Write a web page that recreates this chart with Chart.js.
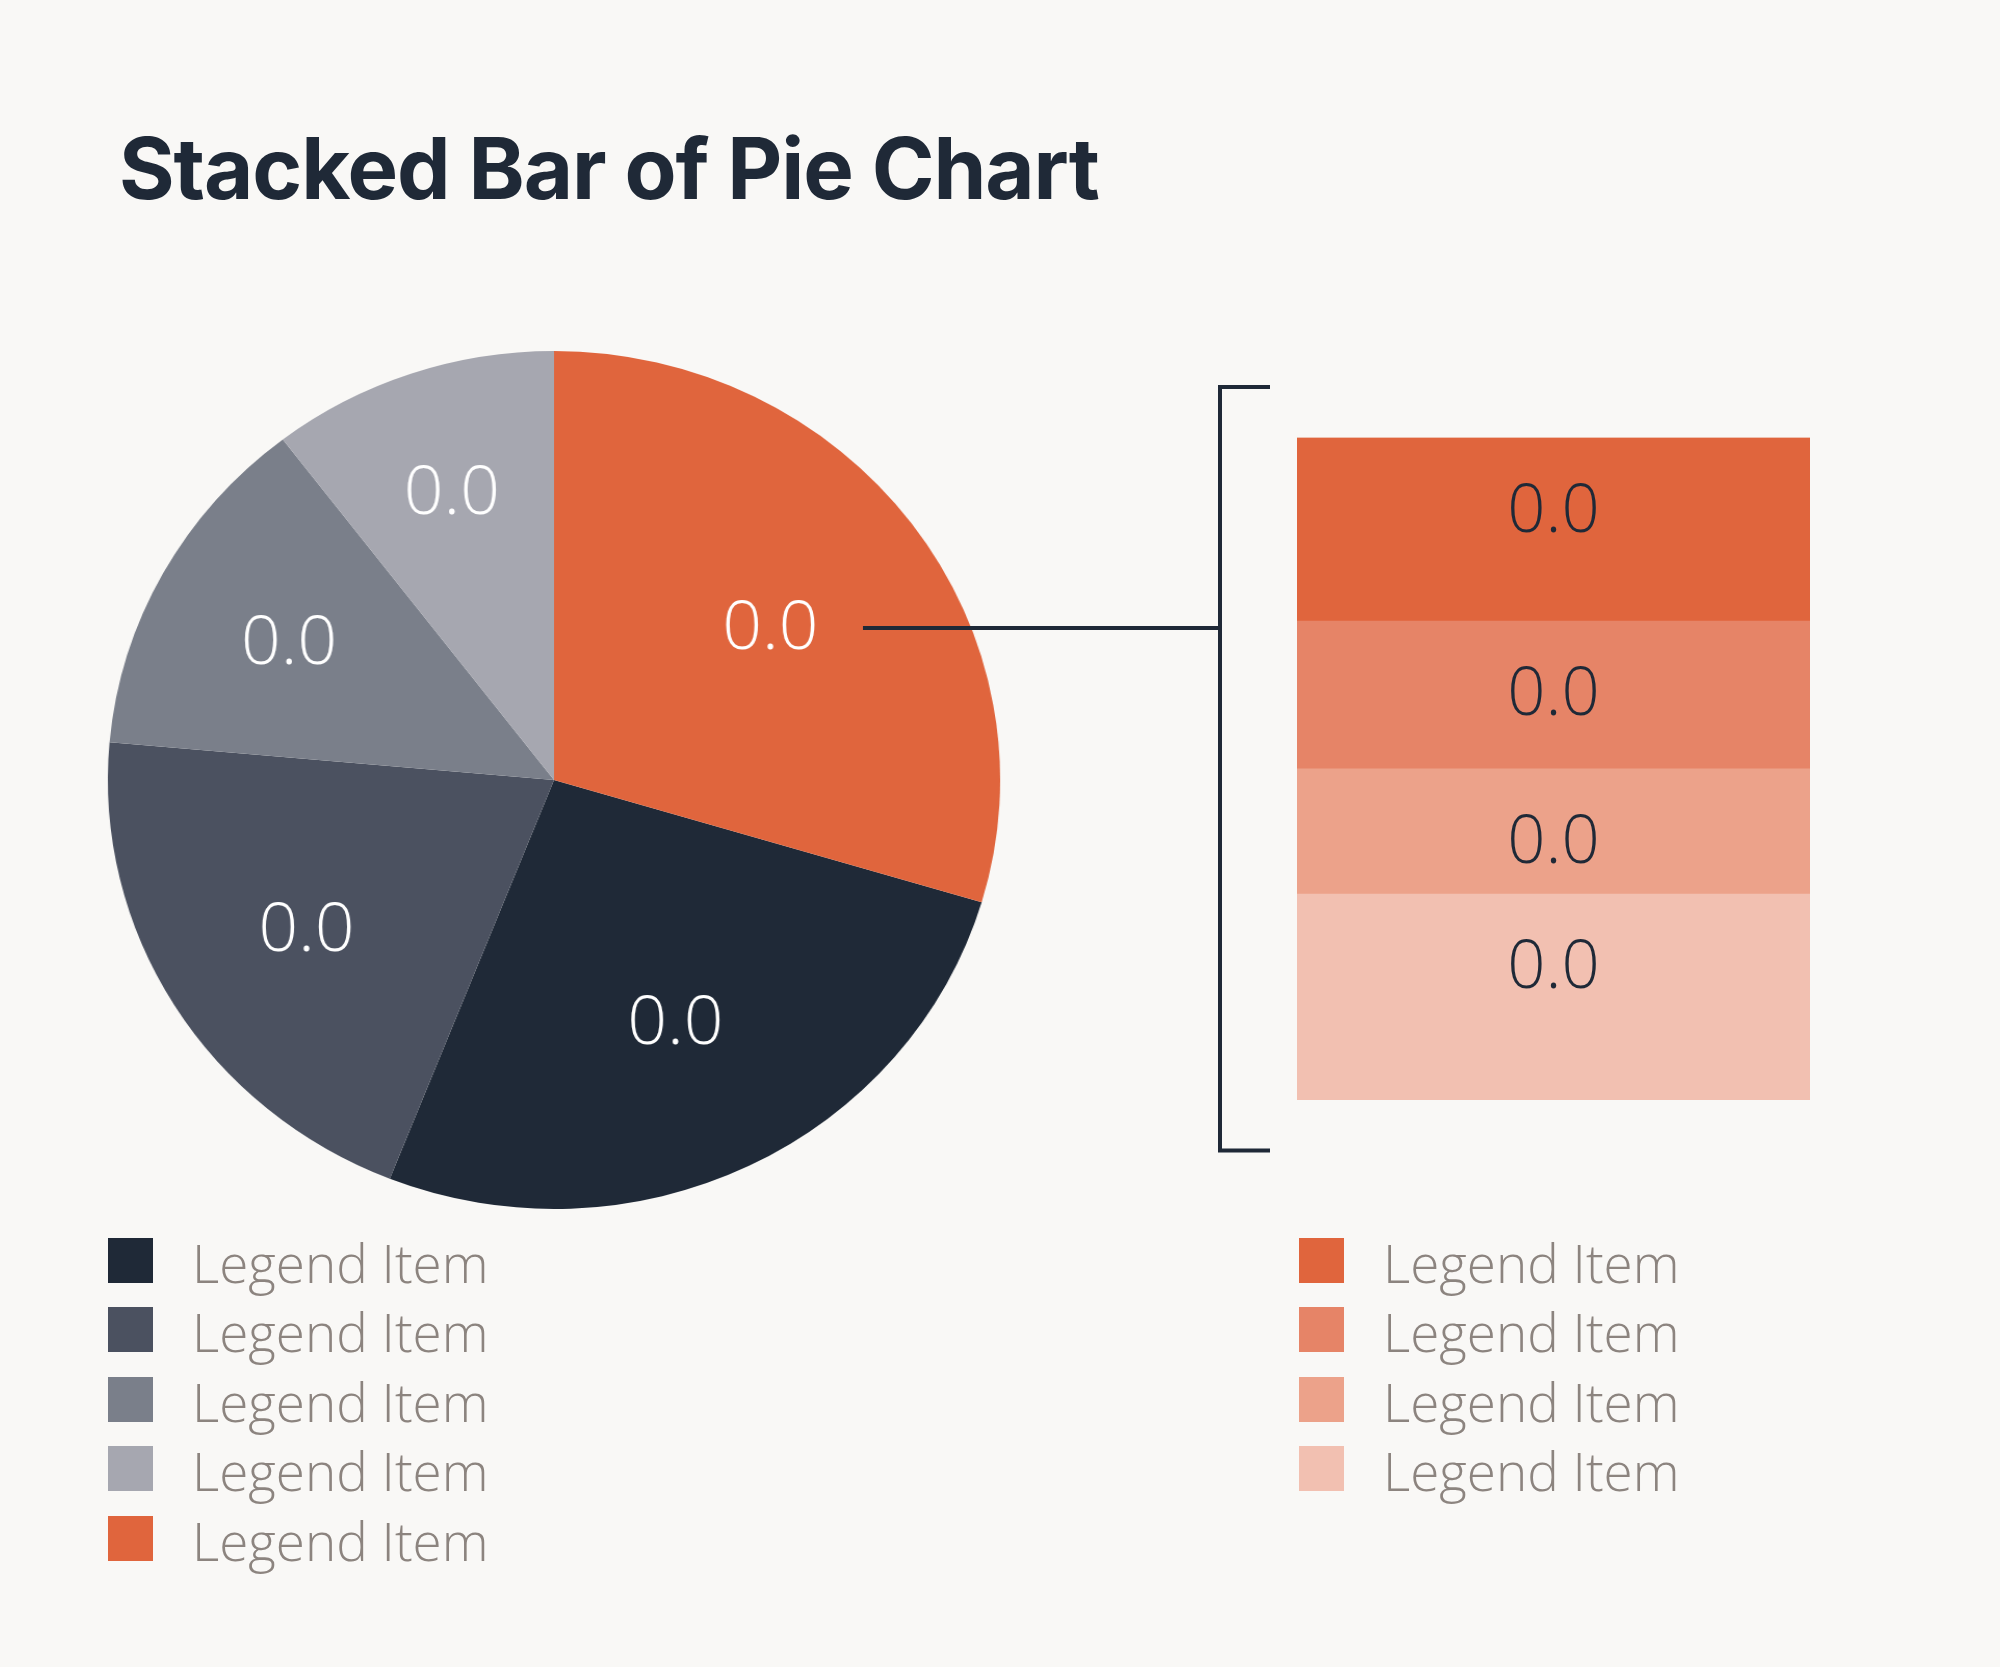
<!DOCTYPE html>
<html lang="en">
<head>
  <meta charset="UTF-8">
  <title>Stacked Bar of Pie Chart</title>
  <script src="https://cdn.jsdelivr.net/npm/chart.js"></script>
  <style>
    body {
      margin: 0;
      background: #f9f8f6;
      font-family: "Open Sans", sans-serif;
    }
    .page {
      position: relative;
      width: 2000px;
      height: 1667px;
      overflow: hidden;
    }
    h1 {
      position: absolute;
      left: 119px;
      top: 126px;
      margin: 0;
      font-family: Inter, sans-serif;
      font-weight: 700;
      font-size: 85px;
      line-height: 1;
      color: #1f2937;
      letter-spacing: -1.1px;
      white-space: nowrap;
    }
    #pieBox {
      position: absolute;
      left: 104px;
      top: 330px;
      width: 900px;
      height: 900px;
      transform: scaleX(1.04);
      transform-origin: 450px 450px;
    }
    #barBox {
      position: absolute;
      left: 840px;
      top: 330px;
      width: 1000px;
      height: 900px;
    }
    .legend {
      position: absolute;
      top: 1238px;
    }
    .legend-row {
      position: relative;
      height: 69.4px;
    }
    .swatch {
      position: absolute;
      left: 0;
      top: 0;
      width: 45px;
      height: 45px;
    }
    .legend-text {
      position: absolute;
      left: 84px;
      top: -2px;
      font-size: 53px;
      font-weight: 300;
      line-height: 1;
      color: #8c847f;
      white-space: nowrap;
    }
  </style>
</head>
<body>
<div class="page">
  <h1>Stacked Bar of Pie Chart</h1>
  <div id="pieBox"><canvas id="pieChart"></canvas></div>
  <div id="barBox"><canvas id="barChart"></canvas></div>
  <div class="legend" id="pieLegend" style="left:108px"></div>
  <div class="legend" id="barLegend" style="left:1299px"></div>
</div>

<script>
  // pie slices, in legend order (last one is broken out into the bar)
  var pieLabels = ['Legend Item', 'Legend Item', 'Legend Item', 'Legend Item', 'Legend Item'];
  var pieValues = [26.4, 20.4, 13.2, 10.4, 29.6];
  var pieValueText = ['0.0', '0.0', '0.0', '0.0', '0.0'];
  var pieColors = ['#1f2937', '#4b5160', '#7a7f8a', '#a6a7b0', '#e0653d'];

  // stacked bar segments, top to bottom
  var barLabels = ['Legend Item', 'Legend Item', 'Legend Item', 'Legend Item'];
  var barValues = [27.7, 22.3, 18.9, 31.1];
  var barValueText = ['0.0', '0.0', '0.0', '0.0'];
  var barColors = ['#e0653d', '#e68467', '#eca28a', '#f2c0b1'];

  var explodedIndex = 4;
  var valueFont = '350 67px "Open Sans", sans-serif';
  var ink = '#1f2937';

  function sum(arr) {
    return arr.reduce(function (a, b) { return a + b; }, 0);
  }

  // html legends
  function buildLegend(id, labels, colors) {
    var box = document.getElementById(id);
    labels.forEach(function (text, i) {
      var row = document.createElement('div');
      row.className = 'legend-row';
      var sw = document.createElement('div');
      sw.className = 'swatch';
      sw.style.background = colors[i];
      var t = document.createElement('div');
      t.className = 'legend-text';
      t.textContent = text;
      row.appendChild(sw);
      row.appendChild(t);
      box.appendChild(row);
    });
  }
  buildLegend('pieLegend', pieLabels, pieColors);
  buildLegend('barLegend', barLabels, barColors);

  // where a value sits inside its slice: a bit outside the sector centroid,
  // pushed further out when the slice is too narrow for the text
  function pieLabelPos(chart, i) {
    var arc = chart.getDatasetMeta(0).data[i];
    var p = arc.getProps(['x', 'y', 'startAngle', 'endAngle', 'outerRadius'], true);
    var mid = (p.startAngle + p.endAngle) / 2;
    var half = Math.min((p.endAngle - p.startAngle) / 2, Math.PI / 2);
    chart.ctx.font = valueFont;
    var w = chart.ctx.measureText(pieValueText[i]).width;
    var centroid = 2 * Math.sin(half) / (3 * half) + 0.03;
    var d = Math.max(p.outerRadius * centroid, (w / 2 + 52) / Math.sin(half));
    return { x: p.x + Math.cos(mid) * d, y: p.y + Math.sin(mid) * d };
  }

  var pieValuePlugin = {
    id: 'pieValues',
    afterDatasetsDraw: function (chart) {
      var ctx = chart.ctx;
      ctx.save();
      ctx.font = valueFont;
      ctx.fillStyle = '#ffffff';
      ctx.textAlign = 'center';
      ctx.textBaseline = 'alphabetic';
      pieValueText.forEach(function (text, i) {
        var pos = pieLabelPos(chart, i);
        ctx.fillText(text, pos.x, pos.y + 24);
      });
      ctx.restore();
    }
  };

  var pieChart = new Chart(document.getElementById('pieChart').getContext('2d'), {
    type: 'pie',
    data: {
      labels: pieLabels,
      datasets: [{
        data: pieValues,
        backgroundColor: pieColors,
        borderWidth: 0
      }]
    },
    options: {
      responsive: true,
      maintainAspectRatio: false,
      animation: false,
      rotation: 360 * pieValues[explodedIndex] / sum(pieValues),
      layout: { padding: 21 },
      plugins: {
        legend: { display: false },
        tooltip: { enabled: false }
      }
    },
    plugins: [pieValuePlugin]
  });

  // values in the bar, bracket and the line back to the pie
  var barExtrasPlugin = {
    id: 'barExtras',
    afterDatasetsDraw: function (chart) {
      var ctx = chart.ctx;
      var area = chart.chartArea;
      ctx.save();
      ctx.font = valueFont;
      ctx.fillStyle = ink;
      ctx.textAlign = 'center';
      ctx.textBaseline = 'alphabetic';
      chart.data.datasets.forEach(function (ds, di) {
        var bar = chart.getDatasetMeta(di).data[0];
        ctx.fillText(ds.valueText, bar.x, bar.y + 70 + 24);
      });

      ctx.strokeStyle = ink;
      ctx.lineWidth = 4;
      var bx = area.left - 77;
      var top = area.top - 50.5;
      var bottom = area.bottom + 50.5;
      ctx.beginPath();
      ctx.moveTo(area.left - 27, top);
      ctx.lineTo(bx, top);
      ctx.lineTo(bx, bottom);
      ctx.lineTo(area.left - 27, bottom);
      ctx.stroke();

      var pos = pieLabelPos(pieChart, explodedIndex);
      var pieBox = document.getElementById('pieBox');
      var barBox = document.getElementById('barBox');
      var pageX = pieBox.offsetLeft + 450 + (pos.x - 450) * 1.04;
      var startX = pageX - barBox.offsetLeft + 74;
      var y = pos.y + 3 + pieBox.offsetTop - barBox.offsetTop;
      ctx.beginPath();
      ctx.moveTo(startX, y);
      ctx.lineTo(bx, y);
      ctx.stroke();
      ctx.restore();
    }
  };

  // stack is drawn bottom-up, so feed the segments reversed
  var barDatasets = [];
  for (var i = barValues.length - 1; i >= 0; i--) {
    barDatasets.push({
      label: barLabels[i],
      data: [barValues[i]],
      valueText: barValueText[i],
      backgroundColor: barColors[i],
      borderWidth: 0,
      barPercentage: 1,
      categoryPercentage: 1
    });
  }

  var barChart = new Chart(document.getElementById('barChart').getContext('2d'), {
    type: 'bar',
    data: {
      labels: [''],
      datasets: barDatasets
    },
    options: {
      responsive: true,
      maintainAspectRatio: false,
      animation: false,
      layout: {
        padding: { left: 457, right: 30, top: 107.6, bottom: 130 }
      },
      scales: {
        x: { stacked: true, display: false },
        y: { stacked: true, display: false, min: 0, max: sum(barValues) }
      },
      plugins: {
        legend: { display: false },
        tooltip: { enabled: false }
      }
    },
    plugins: [barExtrasPlugin]
  });
</script>
</body>
</html>
